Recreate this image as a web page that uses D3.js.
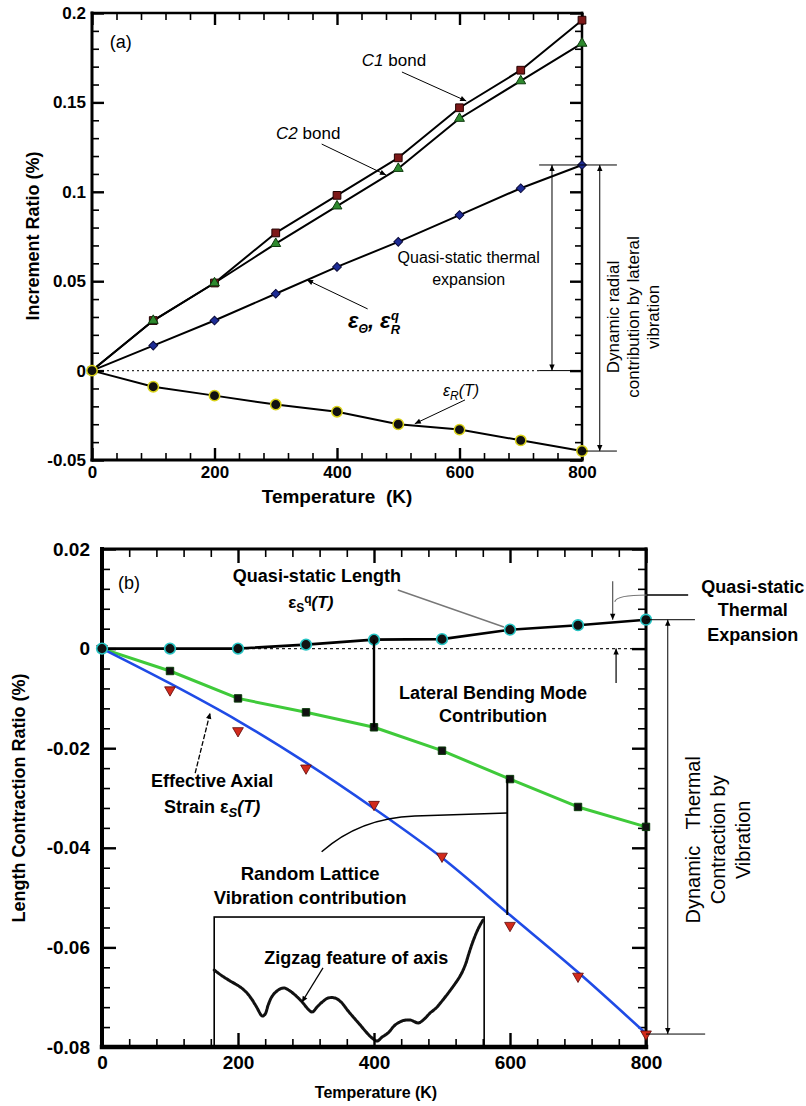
<!DOCTYPE html>
<html lang="en">
<head>
<meta charset="utf-8">
<title>Increment ratio / length contraction vs temperature</title>
<style>
body { margin: 0; background: #fff; }
svg { display: block; font-family: "Liberation Sans", Arial, Helvetica, sans-serif; }
</style>
</head>
<body>
<script src="https://cdn.jsdelivr.net/npm/d3@7/dist/d3.min.js"></script>
<script>

var W = 806, H = 1106;
var FONT = "'Liberation Sans', Arial, Helvetica, sans-serif";

// ---- data ----
var temps = [0, 100, 200, 300, 400, 500, 600, 700, 800];

// panel (a)
var c1Bond      = [0, 0.028, 0.049, 0.077, 0.098, 0.119, 0.147, 0.168, 0.196];
var c2Bond      = [0, 0.028, 0.049, 0.071, 0.092, 0.113, 0.141, 0.162, 0.183];
var quasiRadial = [0, 0.014, 0.028, 0.043, 0.058, 0.072, 0.087, 0.102, 0.115];
var radialR     = [0, -0.009, -0.014, -0.019, -0.023, -0.030, -0.033, -0.039, -0.045];
var xTicksA = [0, 200, 400, 600, 800];
var yTicksA = [-0.05, 0, 0.05, 0.1, 0.15, 0.2];

// panel (b)
var quasiLength = [0, 0, 0, 0.0008, 0.0018, 0.0019, 0.0038, 0.0047, 0.0058];
var lateralMode = [0, -0.0045, -0.0100, -0.0128, -0.0158, -0.0205, -0.0262, -0.0318, -0.0358];
var axialStrain = [0, -0.0083, -0.0165, -0.0240, -0.0313, -0.0417, -0.0556, -0.0658, -0.0774];
var axialFit    = [0, -0.0070, -0.0145, -0.0229, -0.0321, -0.0420, -0.0535, -0.0650, -0.0773];
var xTicksB = [0, 200, 400, 600, 800];
var yTicksB = [-0.08, -0.06, -0.04, -0.02, 0, 0.02];

// inset "zigzag" trace (arbitrary 0..100 units inside the box)
var zigX = [0, 3.0, 5.9, 9.6, 12.2, 14.1, 15.9, 17.8, 18.9, 20.0, 21.5, 23.7, 25.9, 28.1, 30.4, 32.6, 34.4, 36.3,
            38.1, 40.0, 42.2, 44.8, 47.0, 49.3, 51.5, 54.1, 56.3, 58.5, 60.4, 62.2, 64.4, 67.0, 69.6, 72.6, 75.6,
            77.8, 80.0, 82.2, 84.4, 86.7, 88.9, 91.1, 93.0, 94.4, 95.9, 97.4, 98.5, 99.6];
var zigY = [59.2, 54.6, 50.8, 46.2, 41.5, 36.2, 30.0, 23.8, 25.4, 32.3, 39.2, 43.8, 45.4, 43.1, 39.2, 34.6, 30.0, 26.9,
            30.8, 34.6, 37.7, 37.7, 34.6, 28.5, 23.1, 16.9, 11.5, 6.9, 4.6, 7.7, 10.8, 16.9, 20.0, 20.8, 18.5,
            21.5, 26.2, 30.0, 35.4, 41.5, 47.7, 54.6, 63.1, 72.3, 81.5, 89.2, 93.8, 97.7];

// ---- svg ----
var svg = d3.select("body").append("svg").attr("width", W).attr("height", H);

var defs = svg.append("defs");
defs.append("marker").attr("id", "ah")
  .attr("viewBox", "0 0 10 10").attr("refX", 10).attr("refY", 5)
  .attr("markerWidth", 7).attr("markerHeight", 6).attr("markerUnits", "userSpaceOnUse")
  .attr("orient", "auto-start-reverse")
  .append("path").attr("d", "M0,0.5 L10,5 L0,9.5 z").attr("fill", "#000");

function fmt(d) { return String(+d.toFixed(4)); }
function minorOf(lo, hi, step, major) {
  return d3.range(lo, hi + step / 2, step).filter(function(d) {
    return !major.some(function(t) { return Math.abs(t - d) < step / 10; });
  });
}

// draw the 4 sides of a framed plot with inward ticks
function frameAxes(x, y, o) {
  var x0 = x.range()[0], x1 = x.range()[1], yb = y.range()[0], yt = y.range()[1];
  function put(gen, tr, vals, len, w, lab, pad, fs) {
    var g = svg.append("g").attr("transform", tr)
      .call(gen.tickValues(vals).tickSizeInner(-len).tickSizeOuter(0).tickPadding(pad || 3)
        .tickFormat(lab ? fmt : function() { return ""; }));
    g.select(".domain").remove();
    g.selectAll(".tick line").attr("stroke", "#000").attr("stroke-width", w);
    g.attr("font-family", FONT).attr("font-size", fs || 10).attr("font-weight", "bold");
    g.selectAll("text").attr("fill", "#000");
    return g;
  }
  var xMin = minorOf(x.domain()[0], x.domain()[1], o.xStep, o.xt);
  var yMin = minorOf(y.domain()[0], y.domain()[1], o.yStep, o.yt);
  // bottom
  put(d3.axisBottom(x), "translate(0," + yb + ")", xMin, o.minLen, 1.6);
  put(d3.axisBottom(x), "translate(0," + yb + ")", o.xt, o.majLen, 2.4, true, o.xPad, o.xFs);
  // top
  put(d3.axisTop(x), "translate(0," + yt + ")", xMin, o.minLen, 1.6);
  put(d3.axisTop(x), "translate(0," + yt + ")", o.xt, o.majLen, 2.4);
  // left
  put(d3.axisLeft(y), "translate(" + x0 + ",0)", yMin, o.minLen, 1.6);
  put(d3.axisLeft(y), "translate(" + x0 + ",0)", o.yt, o.majLen, 2.4, true, o.yPad, o.yFs);
  // right
  put(d3.axisRight(y), "translate(" + x1 + ",0)", yMin, o.minLen, 1.6);
  put(d3.axisRight(y), "translate(" + x1 + ",0)", o.yt, o.majLen, 2.4);
  // frame
  var f = svg.append("g").attr("stroke", "#000").attr("stroke-linecap", "square");
  f.append("line").attr("x1", x0).attr("x2", x0).attr("y1", yt).attr("y2", yb).attr("stroke-width", o.lw[0]);
  f.append("line").attr("x1", x0).attr("x2", x1).attr("y1", yb).attr("y2", yb).attr("stroke-width", o.lw[1]);
  f.append("line").attr("x1", x0).attr("x2", x1).attr("y1", yt).attr("y2", yt).attr("stroke-width", o.lw[2]);
  f.append("line").attr("x1", x1).attr("x2", x1).attr("y1", yt).attr("y2", yb).attr("stroke-width", o.lw[3]);
}

function seg(x1, y1, x2, y2, a) {
  a = a || {};
  var l = svg.append("line").attr("x1", x1).attr("y1", y1).attr("x2", x2).attr("y2", y2)
    .attr("stroke", a.color || "#000").attr("stroke-width", a.w || 1);
  if (a.end) l.attr("marker-end", "url(#ah)");
  if (a.start) l.attr("marker-start", "url(#ah)");
  if (a.dash) l.attr("stroke-dasharray", a.dash);
  return l;
}

function rich(x, y, spans, a) {
  var t = svg.append("text").attr("x", x).attr("y", y)
    .attr("font-size", a.fs).attr("font-weight", a.bold ? "bold" : null)
    .attr("font-style", a.italic ? "italic" : null)
    .attr("text-anchor", a.anchor || "start").attr("fill", "#000");
  spans.forEach(function(s) {
    if (typeof s === "string") s = { t: s };
    t.append("tspan").text(s.t).attr("dx", s.dx || null).attr("dy", s.dy || null)
      .attr("font-size", s.fs || null).attr("font-style", s.it ? "italic" : null);
  });
  return t;
}

function rotText(x, y, lines, step, a) {
  var g = svg.append("g").attr("transform", "translate(" + x + "," + y + ") rotate(-90)");
  lines.forEach(function(s, i) {
    g.append("text").attr("x", 0).attr("y", i * step).attr("text-anchor", "middle")
      .attr("font-size", a.fs).attr("font-weight", a.bold ? "bold" : null)
      .attr("fill", "#000").style("white-space", "pre").text(s);
  });
}

function markers(x, y, vals, type, size, fill, stroke, sw, rot) {
  var sym = d3.symbol().type(type).size(size);
  svg.append("g").selectAll("path").data(temps).join("path")
    .attr("d", sym)
    .attr("transform", function(d, i) { return "translate(" + x(d) + "," + y(vals[i]) + ")" + (rot ? " rotate(" + rot + ")" : ""); })
    .attr("fill", fill).attr("stroke", stroke).attr("stroke-width", sw);
}

function series(x, y, vals, color, w, curve) {
  var ln = d3.line().x(function(d) { return x(d); }).y(function(d, i) { return y(vals[i]); });
  if (curve) ln.curve(curve);
  svg.append("path").datum(temps).attr("d", ln)
    .attr("fill", "none").attr("stroke", color).attr("stroke-width", w).attr("stroke-linejoin", "round");
}

// ================= panel (a) =================
var xa = d3.scaleLinear().domain([0, 800]).range([92, 582]);
var ya = d3.scaleLinear().domain([-0.05, 0.2]).range([460, 13]);

// zero dotted line
seg(xa(0), ya(0), xa(730), ya(0), { dash: "2,3", w: 1.2, color: "#333" });
seg(xa(730), ya(0), xa(800), ya(0), { w: 1 });

frameAxes(xa, ya, { xt: xTicksA, yt: yTicksA, xStep: 40, yStep: 0.01, majLen: 12, minLen: 7,
  xPad: 6, yPad: 6, xFs: 17, yFs: 17, lw: [3, 3, 2.5, 2.5] });

series(xa, ya, c1Bond, "#000", 2);
series(xa, ya, c2Bond, "#000", 2);
series(xa, ya, quasiRadial, "#000", 2);
series(xa, ya, radialR, "#000", 2);

markers(xa, ya, c1Bond, d3.symbolSquare, 60, "#7d1818", "#220000", 1);
markers(xa, ya, c2Bond, d3.symbolTriangle, 42, "#2e8a2e", "#0d3a0d", 1);
markers(xa, ya, quasiRadial, d3.symbolSquare, 38, "#1d2c96", "#0a0a3a", 1, 45);
markers(xa, ya, radialR, d3.symbolCircle, 85, "#111", "#d9d21a", 1.5);

// axis titles
rotText(39, 236, ["Increment Ratio (%)"], 0, { fs: 18, bold: true });
svg.append("text").attr("x", 337).attr("y", 503).attr("text-anchor", "middle")
  .attr("font-size", 19).attr("font-weight", "bold").style("white-space", "pre")
  .text("Temperature  (K)");

// annotations (a)
rich(xa(29), ya(0.1804), ["(a)"], { fs: 18 });
rich(xa(493), ya(0.1704), [{ t: "C1", it: true }, " bond"], { fs: 17, anchor: "middle" });
seg(xa(506), ya(0.167), xa(611), ya(0.1508), { end: true });
rich(xa(353), ya(0.1295), [{ t: "C2", it: true }, " bond"], { fs: 17, anchor: "middle" });
seg(xa(375), ya(0.1267), xa(480), ya(0.1094), { end: true });
rich(xa(615), ya(0.0602), ["Quasi-static thermal"], { fs: 16, anchor: "middle" });
rich(xa(615), ya(0.0479), ["expansion"], { fs: 16, anchor: "middle" });
rich(xa(418), ya(0.0238), ["\u03b5", { t: "\u0398", dy: 5, fs: 12 }, { t: ", \u03b5", dy: -5 },
  { t: "R", dy: 6, fs: 13 }, { t: "q", dx: -9, dy: -14, fs: 13 }], { fs: 22, bold: true, italic: true });
seg(xa(450), ya(0.0345), xa(351), ya(0.0507), { end: true });
rich(xa(573), ya(-0.0142), ["\u03b5", { t: "R", dy: 4, fs: 12 }, { t: "(T)", dy: -4 }], { fs: 16, italic: true });
seg(xa(609), ya(-0.0164), xa(527), ya(-0.0297), { end: true });

seg(xa(730), ya(quasiRadial[8]), xa(857), ya(quasiRadial[8]), { w: 1 });
seg(xa(800), ya(radialR[8]), xa(857), ya(radialR[8]), { w: 1 });
seg(xa(751), ya(quasiRadial[8]), xa(751), ya(0), { start: true, end: true });
seg(xa(829), ya(quasiRadial[8]), xa(829), ya(radialR[8]), { start: true, end: true });
rotText(xa(861), ya(0.03), ["Dynamic radial", "contribution by lateral", "vibration"], 20, { fs: 17 });

// ================= panel (b) =================
var xb = d3.scaleLinear().domain([0, 800]).range([102, 646]);
var yb = d3.scaleLinear().domain([-0.08, 0.02]).range([1047, 549]);

seg(xb(0), yb(0), xb(800), yb(0), { dash: "3,3", w: 1.3, color: "#222" });

// inset box + zigzag trace
var insetK = [165, 562], insetTop = -0.0539;
var xi = d3.scaleLinear().domain([0, 100]).range([xb(insetK[0]), xb(insetK[1])]);
var yi = d3.scaleLinear().domain([0, 100]).range([yb(-0.08), yb(insetTop)]);
svg.append("rect").attr("x", xi(0)).attr("y", yi(100))
  .attr("width", xi(100) - xi(0)).attr("height", yi(0) - yi(100))
  .attr("fill", "none").attr("stroke", "#000").attr("stroke-width", 1.6);
svg.append("path").datum(zigX)
  .attr("d", d3.line().x(function(d) { return xi(d); }).y(function(d, i) { return yi(zigY[i]); }).curve(d3.curveCatmullRom))
  .attr("fill", "none").attr("stroke", "#111").attr("stroke-width", 3)
  .attr("stroke-dasharray", "2.5,1.2").attr("stroke-linecap", "round");

frameAxes(xb, yb, { xt: xTicksB, yt: yTicksB, xStep: 40, yStep: 0.004, majLen: 14, minLen: 8,
  xPad: 9, yPad: 12, xFs: 19, yFs: 19, lw: [4, 4.5, 3, 3] });

series(xb, yb, lateralMode, "#3fca3a", 3);
series(xb, yb, axialFit, "#1f4be6", 2.6, d3.curveMonotoneX);
series(xb, yb, quasiLength, "#000", 2.6);

markers(xb, yb, axialStrain, d3.symbolTriangle, 50, "#d22a1c", "#5a0808", 0.8, 180);
markers(xb, yb, lateralMode, d3.symbolSquare, 55, "#111", "#0a3a0a", 1);
markers(xb, yb, quasiLength, d3.symbolCircle, 90, "#111", "#27c4c4", 1.6);

// axis titles
rotText(25, 798, ["Length Contraction Ratio (%)"], 0, { fs: 18, bold: true });
svg.append("text").attr("x", 376).attr("y", 1098).attr("text-anchor", "middle")
  .attr("font-size", 16).attr("font-weight", "bold").text("Temperature (K)");

// annotations (b)
rich(xb(23.5), yb(0.012), ["(b)"], { fs: 18 });
rich(xb(316), yb(0.0133), ["Quasi-static Length"], { fs: 18, bold: true, anchor: "middle" });
rich(xb(307), yb(0.0082), ["\u03b5", { t: "S", dy: 4, fs: 12 }, { t: "q", dy: -9, fs: 12 },
  { t: "(T)", dy: 5, it: true }], { fs: 17, bold: true, anchor: "middle" });
seg(xb(435), yb(0.01177), xb(591), yb(0.00434), { color: "#777", w: 1.4 });

rich(xb(957), yb(0.01116), ["Quasi-static"], { fs: 18, bold: true, anchor: "middle" });
rich(xb(957), yb(0.00655), ["Thermal"], { fs: 18, bold: true, anchor: "middle" });
rich(xb(957), yb(0.00153), ["Expansion"], { fs: 18, bold: true, anchor: "middle" });
seg(xb(801), yb(0.01076), xb(862), yb(0.01076), { w: 1.6 });
svg.append("path")
  .attr("d", "M" + xb(754) + "," + yb(0.0094) + " Q" + xb(757) + "," + yb(0.01076) + " " + xb(801) + "," + yb(0.01076))
  .attr("fill", "none").attr("stroke", "#777").attr("stroke-width", 1.2);
seg(xb(751), yb(0.0135), xb(751), yb(0.0058), { end: true, color: "#555", w: 1.2 });
seg(xb(756), yb(-0.0069), xb(756), yb(0), { end: true, w: 1.2 });

seg(xb(800), yb(quasiLength[8]), xb(872), yb(quasiLength[8]), { w: 1 });
seg(xb(800), yb(axialStrain[8]), xb(887), yb(axialStrain[8]), { w: 1 });
seg(xb(832), yb(quasiLength[8]), xb(832), yb(axialStrain[8]), { start: true, end: true });
rotText(xb(879), yb(-0.0384), ["Dynamic   Thermal", "Contraction by", "Vibration"], 25, { fs: 20 });

seg(xb(400), yb(quasiLength[4]), xb(400), yb(lateralMode[4]), { w: 2.4 });
rich(xb(575), yb(-0.01012), ["Lateral Bending Mode"], { fs: 18, bold: true, anchor: "middle" });
rich(xb(575), yb(-0.01474), ["Contribution"], { fs: 18, bold: true, anchor: "middle" });

seg(xb(596), yb(lateralMode[6]), xb(596), yb(axialFit[6]), { w: 2 });
svg.append("path")
  .attr("d", "M" + xb(323) + "," + yb(-0.0408) + " Q" + xb(379) + "," + yb(-0.0340) + " " + xb(460) + "," + yb(-0.0336) +
    " L" + xb(596) + "," + yb(-0.0330))
  .attr("fill", "none").attr("stroke", "#000").attr("stroke-width", 1.5);
rich(xb(306), yb(-0.04647), ["Random Lattice"], { fs: 18.5, bold: true, anchor: "middle" });
rich(xb(306), yb(-0.05129), ["Vibration contribution"], { fs: 18.5, bold: true, anchor: "middle" });

rich(xb(162), yb(-0.02779), ["Effective Axial"], { fs: 18, bold: true, anchor: "middle" });
rich(xb(162), yb(-0.0330), ["Strain \u03b5", { t: "S", dy: 4, fs: 13, it: true }, { t: "(T)", dy: -4, it: true }],
  { fs: 18, bold: true, anchor: "middle" });
seg(xb(137), yb(-0.0250), xb(159), yb(-0.0129), { end: true, dash: "5,2", w: 1.3 });

rich(xb(374), yb(-0.0633), ["Zigzag feature of axis"], { fs: 18, bold: true, anchor: "middle" });
seg(xb(325), yb(-0.0641), xb(294), yb(-0.0710), { end: true, w: 1.2 });

</script>
</body>
</html>
